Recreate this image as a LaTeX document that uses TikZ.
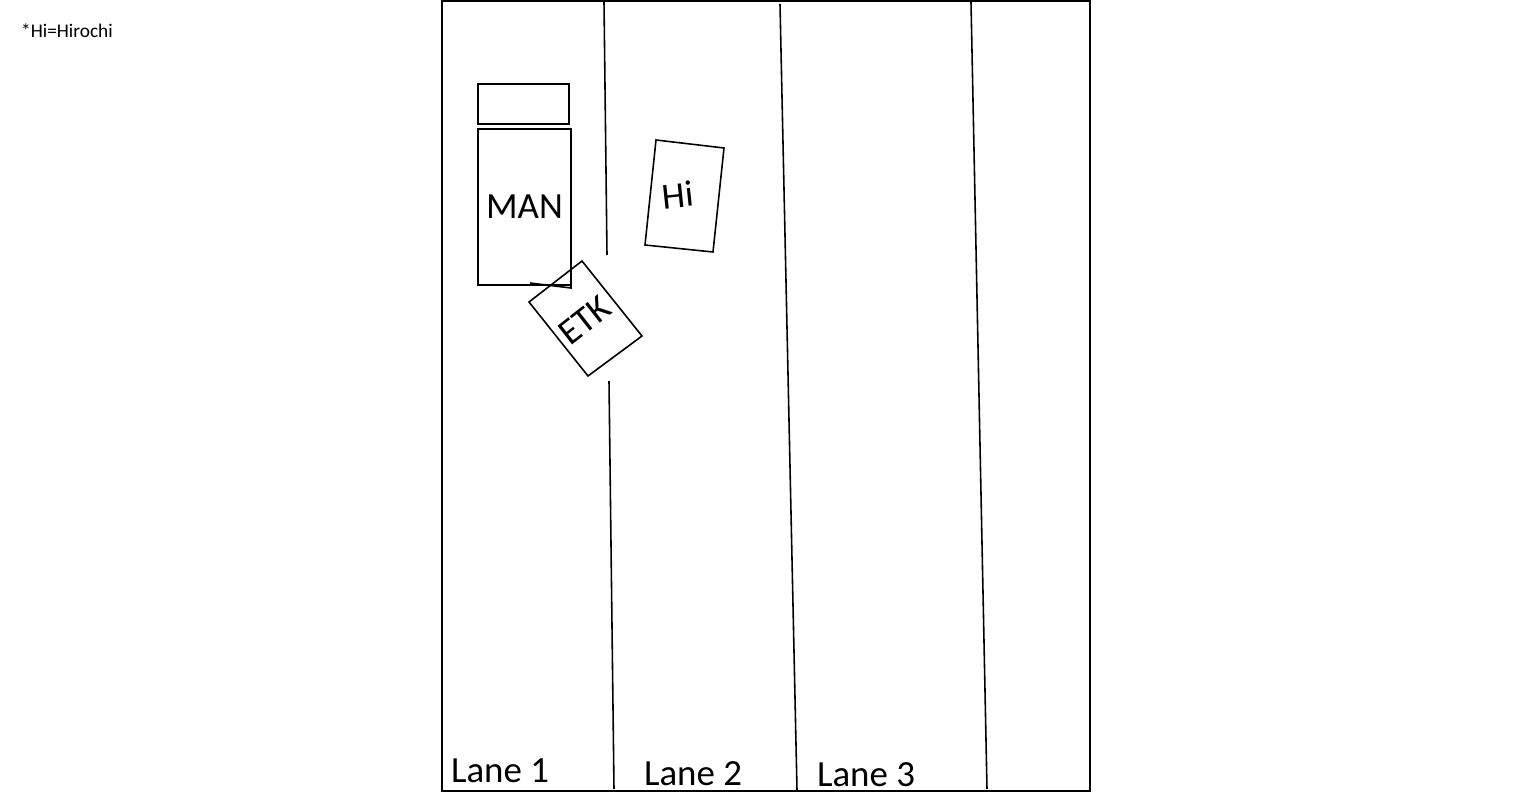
\documentclass[tikz,border=0pt]{standalone}
\usepackage{fontspec}
\setmainfont{Carlito}
\begin{document}
\begin{tikzpicture}[x=0.02cm,y=-0.02cm,line width=0.9pt,
  lbl/.style={font=\fontsize{21}{24}\selectfont}]
  \useasboundingbox (0,0) rectangle (1536,793);

  \draw (442,1) rectangle (1090,791); %Road outline

  %Lane markings
  \draw (604,2) -- (607,255);
  \draw (609,381) -- (614,789);
  \draw (780,4) -- (797,790);
  \draw (971,2) -- (987,789);

  %Vehicles
  \draw (478,84) rectangle (569,124); %Trailer
  \node[draw,minimum width=93*0.02cm,minimum height=156*0.02cm,inner sep=0pt,
        lbl] (man) at (524.5,207) {MAN};
  \draw (571,257) -- (571,288) -- (530,283);
  \draw (529,302) -- (582,261) -- (642,336) -- (588,376) -- cycle; %ETK
  \node[lbl,rotate=38,inner sep=0pt] (etk) at (585,320) {ETK};
  \draw (656,140) -- (724,148) -- (713,252) -- (645,245) -- cycle; %Hi
  \node[lbl,rotate=6] (hi) at (678,195) {Hi};

  %Labels
  \node[lbl] (l1) at (500,771) {Lane 1};
  \node[lbl] (l2) at (693,774) {Lane 2};
  \node[lbl] (l3) at (866,775) {Lane 3};
  \node[font=\fontsize{11}{13}\selectfont] (note) at (67,31) {*Hi=Hirochi};
\end{tikzpicture}
\end{document}
